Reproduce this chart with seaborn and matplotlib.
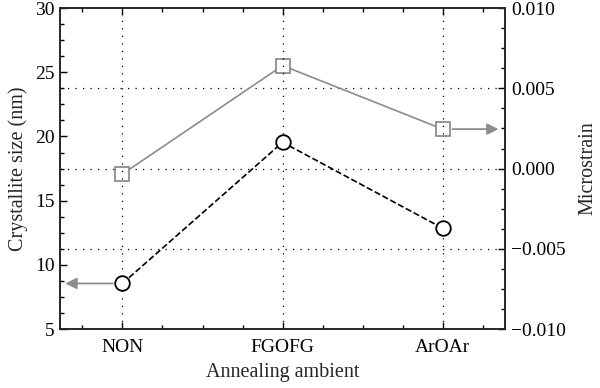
import numpy as np
import pandas as pd
import matplotlib
matplotlib.use("Agg")
import matplotlib.pyplot as plt
from matplotlib.ticker import MultipleLocator, FixedLocator
import seaborn as sns

categorie = ["NON", "FGOFG", "ArOAr"]
dimensione = [8.55, 19.55, 12.85]          # Crystallite size (nm), asse sinistro
microstrain = [-0.00034, 0.00642, 0.00246]  # Microstrain, asse destro

df = pd.DataFrame({"Ambiente": categorie, "Size": dimensione, "Strain": microstrain})

sns.set_theme(style="ticks")
plt.rcParams["font.family"] = ["Liberation Serif", "DejaVu Serif"]
plt.rcParams["axes.linewidth"] = 1.2

grigio = "#8c8c8c"

fig, ax = plt.subplots(figsize=(6, 3.88), dpi=100)
fig.subplots_adjust(left=0.1, right=0.842, top=0.979, bottom=0.152)
ax2 = ax.twinx()

sns.lineplot(data=df, x="Ambiente", y="Size", ax=ax, color="black", linestyle="--",
             linewidth=1.2, marker="o", markersize=10.5, markerfacecolor="white",
             markeredgecolor="black", markeredgewidth=1.3, zorder=5)
sns.lineplot(data=df, x="Ambiente", y="Strain", ax=ax2, color=grigio, linestyle="-",
             linewidth=1.2, marker="s", markersize=10, markerfacecolor="white",
             markeredgecolor=grigio, markeredgewidth=1.3, zorder=5)

ax.set_xlim(-0.39, 2.39)
ax.set_ylim(5, 30)
ax2.set_ylim(-0.010, 0.010)

ax.yaxis.set_major_locator(MultipleLocator(5))
ax.yaxis.set_minor_locator(MultipleLocator(1.25))
ax2.yaxis.set_major_locator(MultipleLocator(0.005))
ax2.yaxis.set_minor_locator(MultipleLocator(0.00125))
ax.xaxis.set_major_locator(FixedLocator([0, 1, 2]))
ax.xaxis.set_minor_locator(MultipleLocator(0.25))
ax.set_xticks([0, 1, 2])
ax.set_xticklabels(categorie)

ax2.yaxis.set_major_formatter(plt.FuncFormatter(
    lambda v, p: f"{v:.3f}".replace("-", "\u2212") if abs(v) > 1e-9 else "0.000"))

for a in (ax, ax2):
    a.tick_params(which="both", direction="in", top=True, labelsize=14, colors="black")
    a.tick_params(which="major", length=5, width=1)
    a.tick_params(which="minor", length=3, width=1)
ax.tick_params(axis="y", which="both", right=False, pad=4)
ax2.tick_params(axis="y", which="both", left=False, pad=4)
ax.tick_params(axis="x", pad=7)

# griglia punteggiata
for xv in [0, 1, 2]:
    ax.axvline(xv, color="black", linestyle=(0, (1, 5)), linewidth=0.9, zorder=0)
for yv in [-0.005, 0.0, 0.005]:
    ax2.axhline(yv, color="black", linestyle=(0, (1, 5)), linewidth=0.9, zorder=0)

ax.set_xlabel("Annealing ambient", fontsize=14.5, labelpad=5)
ax.set_ylabel("Crystallite size (nm)", fontsize=14.5, labelpad=5)
ax2.set_ylabel("Microstrain", fontsize=14.5, labelpad=9)

# frecce che indicano l'asse
trans_l = ax.get_yaxis_transform()
ax.annotate("", xy=(0.012, dimensione[0]), xycoords=trans_l,
            xytext=(0, dimensione[0]), textcoords="data",
            arrowprops=dict(arrowstyle="-|>", color=grigio, lw=1.3, mutation_scale=17,
                            shrinkA=7, shrinkB=0))
trans_r = ax2.get_yaxis_transform()
ax2.annotate("", xy=(0.985, microstrain[2]), xycoords=trans_r,
             xytext=(2, microstrain[2]), textcoords="data",
             arrowprops=dict(arrowstyle="-|>", color=grigio, lw=1.3, mutation_scale=17,
                             shrinkA=7, shrinkB=0))

ax.set_zorder(ax2.get_zorder() + 1)
ax.patch.set_visible(False)

plt.savefig("out.png", dpi=100)
